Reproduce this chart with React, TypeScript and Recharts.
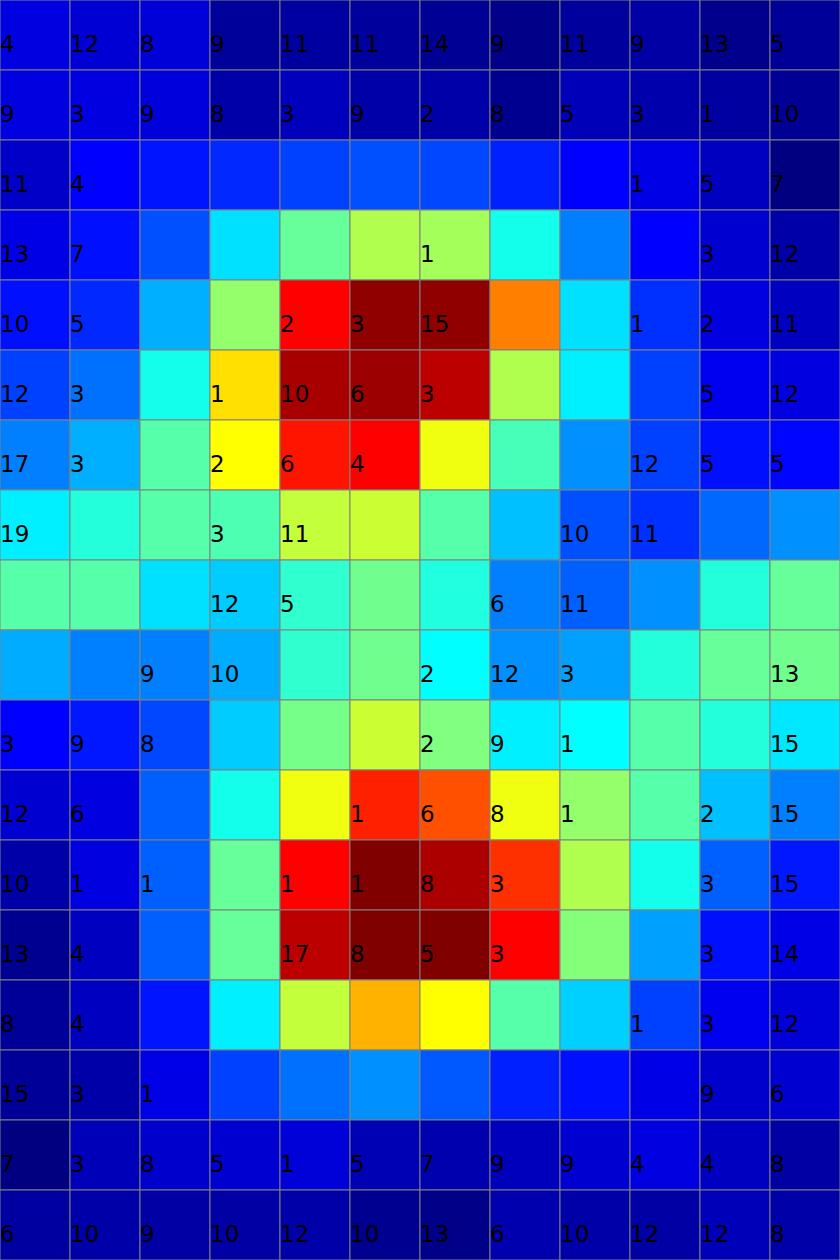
import { Bar, BarChart, Cell, LabelList, XAxis, YAxis } from "recharts";

// column keys (12) and row count (18)
const columns = ["c0", "c1", "c2", "c3", "c4", "c5", "c6", "c7", "c8", "c9", "c10", "c11"];

// colour intensity per cell, 0..1 on the jet scale, one array per row (top to bottom)
const heat: number[][] = [
  [0.095, 0.083, 0.087, 0.026, 0.032, 0.028, 0.02, 0.008, 0.028, 0.036, 0.012, 0.024],
  [0.095, 0.095, 0.091, 0.04, 0.059, 0.04, 0.04, 0.016, 0.055, 0.044, 0.032, 0.02],
  [0.071, 0.125, 0.145, 0.164, 0.1875, 0.203, 0.195, 0.156, 0.125, 0.1, 0.063, 0.0],
  [0.1, 0.141, 0.203, 0.345, 0.475, 0.548, 0.536, 0.395, 0.25, 0.125, 0.079, 0.04],
  [0.141, 0.164, 0.297, 0.52, 0.875, 0.984, 0.984, 0.75, 0.345, 0.172, 0.095, 0.063],
  [0.1875, 0.235, 0.395, 0.655, 0.96, 0.972, 0.941, 0.548, 0.36, 0.1875, 0.11, 0.095],
  [0.25, 0.297, 0.459, 0.625, 0.855, 0.875, 0.61, 0.445, 0.266, 0.1875, 0.141, 0.13],
  [0.36, 0.41, 0.459, 0.45, 0.567, 0.575, 0.459, 0.313, 0.203, 0.172, 0.227, 0.266],
  [0.459, 0.459, 0.345, 0.325, 0.422, 0.485, 0.406, 0.25, 0.219, 0.266, 0.41, 0.475],
  [0.294, 0.25, 0.25, 0.294, 0.422, 0.485, 0.375, 0.266, 0.282, 0.41, 0.475, 0.485],
  [0.125, 0.148, 0.195, 0.325, 0.491, 0.575, 0.5, 0.36, 0.375, 0.459, 0.41, 0.352],
  [0.079, 0.095, 0.219, 0.395, 0.61, 0.844, 0.797, 0.61, 0.52, 0.459, 0.313, 0.25],
  [0.04, 0.095, 0.219, 0.475, 0.875, 1.0, 0.956, 0.828, 0.548, 0.395, 0.219, 0.148],
  [0.016, 0.063, 0.219, 0.475, 0.941, 1.0, 1.0, 0.875, 0.505, 0.282, 0.141, 0.1],
  [0.024, 0.063, 0.145, 0.36, 0.567, 0.7, 0.625, 0.459, 0.329, 0.1875, 0.11, 0.087],
  [0.024, 0.04, 0.1, 0.1875, 0.235, 0.266, 0.211, 0.156, 0.141, 0.1, 0.075, 0.079],
  [0.0, 0.055, 0.075, 0.079, 0.087, 0.051, 0.047, 0.059, 0.079, 0.095, 0.063, 0.036],
  [0.032, 0.04, 0.036, 0.036, 0.04, 0.016, 0.008, 0.047, 0.04, 0.036, 0.055, 0.04],
];

// number printed in each cell (null = blank)
const _ = null;
const counts: (number | null)[][] = [
  [4, 12, 8, 9, 11, 11, 14, 9, 11, 9, 13, 5],
  [9, 3, 9, 8, 3, 9, 2, 8, 5, 3, 1, 10],
  [11, 4, _, _, _, _, _, _, _, 1, 5, 7],
  [13, 7, _, _, _, _, 1, _, _, _, 3, 12],
  [10, 5, _, _, 2, 3, 15, _, _, 1, 2, 11],
  [12, 3, _, 1, 10, 6, 3, _, _, _, 5, 12],
  [17, 3, _, 2, 6, 4, _, _, _, 12, 5, 5],
  [19, _, _, 3, 11, _, _, _, 10, 11, _, _],
  [_, _, _, 12, 5, _, _, 6, 11, _, _, _],
  [_, _, 9, 10, _, _, 2, 12, 3, _, _, 13],
  [3, 9, 8, _, _, _, 2, 9, 1, _, _, 15],
  [12, 6, _, _, _, 1, 6, 8, 1, _, 2, 15],
  [10, 1, 1, _, 1, 1, 8, 3, _, _, 3, 15],
  [13, 4, _, _, 17, 8, 5, 3, _, _, 3, 14],
  [8, 4, _, _, _, _, _, _, _, 1, 3, 12],
  [15, 3, 1, _, _, _, _, _, _, _, 9, 6],
  [7, 3, 8, 5, 1, 5, 7, 9, 9, 4, 4, 8],
  [6, 10, 9, 10, 12, 10, 13, 6, 10, 12, 12, 8],
];

// classic piecewise-linear jet colormap
function jet(v: number) {
  const ch = (t: number) => Math.round(255 * Math.max(0, Math.min(1, t)));
  const r = ch(Math.min(4 * v - 1.5, -4 * v + 4.5));
  const g = ch(Math.min(4 * v - 0.5, -4 * v + 3.5));
  const b = ch(Math.min(4 * v + 0.5, -4 * v + 2.5));
  return `rgb(${r},${g},${b})`;
}

// every cell is one unit tall in a stack of rows
const data = columns.map((col) => {
  const d: Record<string, string | number> = { col };
  heat.forEach((_row, i) => (d[`r${i}`] = 1));
  return d;
});

function CellLabel(rowIdx: number) {
  return (props: any) => {
    const { x, y, height, index } = props;
    const v = counts[rowIdx][index];
    if (v == null) return null;
    const top = height < 0 ? y + height : y;
    const h = Math.abs(height);
    return (
      <text
        x={x}
        y={top + h / 2 + 17}
        fontFamily="DejaVu Sans"
        fontSize={23}
        fill="#000"
      >
        {v}
      </text>
    );
  };
}

export default function App() {
  return (
    <div style={{ position: "absolute", left: 0, top: 0, width: 840, height: 1260 }}>
      <BarChart
        width={840}
        height={1260}
        data={data}
        margin={{ top: 0, right: 0, bottom: 0, left: 0 }}
        barCategoryGap={0}
        barGap={0}
      >
        <XAxis dataKey="col" type="category" hide />
        <YAxis type="number" domain={[0, heat.length]} reversed hide />
        {heat.map((row, i) => (
          <Bar
            key={i}
            dataKey={`r${i}`}
            stackId="grid"
            stroke="#808080"
            strokeWidth={1}
            isAnimationActive={false}
          >
            {row.map((v, j) => (
              <Cell key={j} fill={jet(v)} />
            ))}
            <LabelList dataKey={`r${i}`} content={CellLabel(i)} />
          </Bar>
        ))}
      </BarChart>
    </div>
  );
}
